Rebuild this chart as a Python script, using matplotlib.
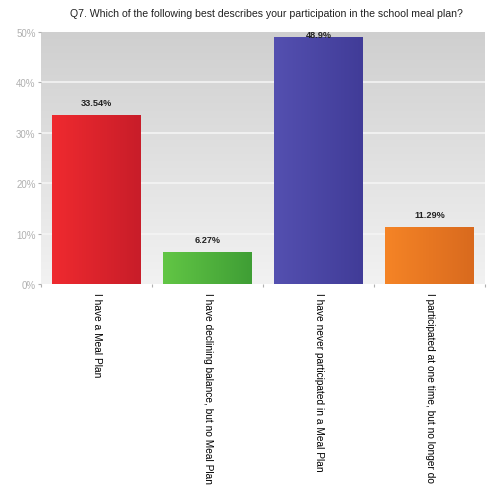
import numpy as np
import matplotlib.pyplot as plt
from matplotlib.colors import LinearSegmentedColormap

plt.rcParams['font.family'] = ['Liberation Sans', 'DejaVu Sans']

categories = [
    "I have a Meal Plan",
    "I have declining balance, but no Meal Plan",
    "I have never participated in a Meal Plan",
    "I participated at one time, but no longer do",
]
percents = [33.54, 6.27, 48.9, 11.29]
value_labels = ["33.54%", "6.27%", "48.9%", "11.29%"]
bar_colors = [("#ef2a2f", "#c81d29"), ("#62c645", "#3f9e35"),
              ("#5450b0", "#413c98"), ("#f58426", "#d96a1e")]

fig = plt.figure(figsize=(4.9, 4.89), dpi=100)
ax = fig.add_axes([0.084, 0.417, 0.906, 0.516])
ax.set_xlim(-0.5, 3.5)
ax.set_ylim(0, 50)

# grey panel, darker towards the top
bg = LinearSegmentedColormap.from_list("bg", ["#f2f2f2", "#cfcfcf"])
ax.imshow(np.linspace(0, 1, 256).reshape(-1, 1), cmap=bg, aspect="auto",
          extent=(-0.5, 3.5, 0, 50), origin="lower", zorder=0)
for y in range(10, 50, 10):
    ax.axhline(y, color="#f4f4f4", lw=1.2, zorder=1)

x = np.arange(len(categories))
bars = ax.bar(x, percents, width=0.8, color="none", edgecolor="none", zorder=2)
grad = np.linspace(0, 1, 256).reshape(1, -1)
for bar, (c1, c2), lbl in zip(bars, bar_colors, value_labels):
    cmap = LinearSegmentedColormap.from_list("b", [c1, c2])
    x0, w, h = bar.get_x(), bar.get_width(), bar.get_height()
    im = ax.imshow(grad, cmap=cmap, aspect="auto",
                   extent=(x0, x0 + w, 0, h), zorder=3)
    im.set_clip_path(bar)
    ax.text(x0 + w / 2, min(h + 1.6, 48.5), lbl, ha="center", va="bottom",
            fontsize=6.6, fontweight="bold", color="#222222", zorder=4)

# labels centred under bars, small ticks between categories
ax.set_xticks(np.arange(-0.5, 4, 1.0))
ax.set_xticklabels([])
ax.set_xticks(x, minor=True)
ax.set_xticklabels(categories, minor=True, rotation=-90, fontsize=7.3, va="top")
ax.tick_params(axis="x", which="minor", length=0, pad=6)
ax.tick_params(axis="x", which="major", length=2, color="#b0b0b0")
ax.set_yticks(range(0, 51, 10))
ax.set_yticklabels([f"{v}%" for v in range(0, 51, 10)], fontsize=7, color="#b0b0b0")
ax.tick_params(axis="y", length=2, color="#b0b0b0", pad=2)
for s in ax.spines.values():
    s.set_visible(False)

fig.text(0.543, 0.972, "Q7. Which of the following best describes your participation in the school meal plan?",
         ha="center", va="center", fontsize=7.6, color="#222222")

fig.savefig("out.png", dpi=100)
